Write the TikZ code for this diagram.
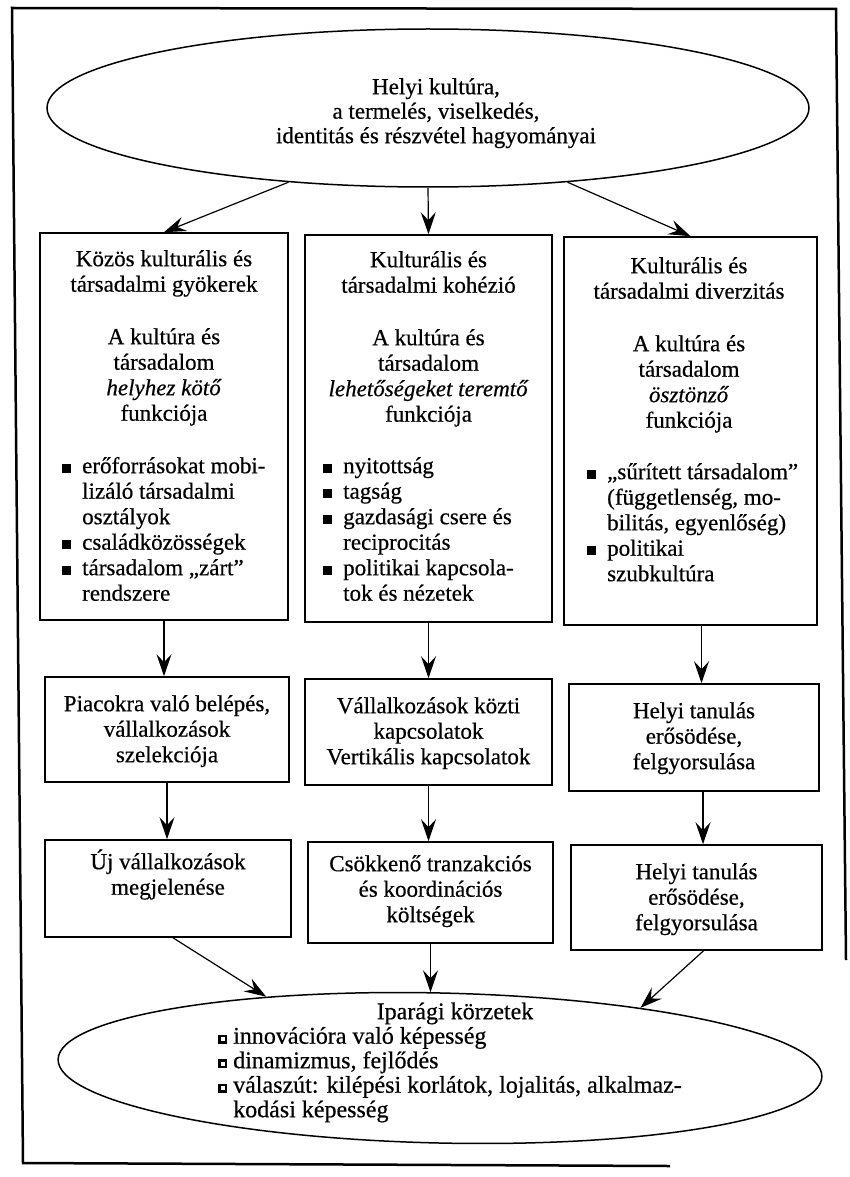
\documentclass[tikz,border=0pt]{standalone}
\usepackage{fontspec}
\setmainfont{Liberation Serif}[FakeBold=0.5]
\usetikzlibrary{arrows.meta,shapes.geometric,calc}
\newcommand\bul{\llap{\rule[0.5pt]{9pt}{9pt}\hspace{11pt}}}
\newcommand\obul{\llap{\rlap{\rule[0pt]{9pt}{9pt}}\hspace{2.5pt}\textcolor{white}{\rule[2.5pt]{4pt}{4pt}}\hspace{2.5pt}\hspace{6pt}}}
\newcommand\fst{\rule{0pt}{22pt}}
\begin{document}
\begin{tikzpicture}[x=1pt,y=-1pt,
  box/.style={draw, rectangle, line width=1.6pt, inner sep=0pt},
  oval/.style={draw, ellipse, line width=1.5pt, inner sep=0pt},
  txt/.style={inner sep=0pt, align=center, font={\fontsize{23}{25.5}\selectfont}},
  ltxt/.style={inner sep=0pt, align=left, font={\fontsize{23}{25.5}\selectfont}},
  arr/.style={line width=1.2pt, -{Stealth[length=22pt,width=15pt,inset=8pt]}}]
\useasboundingbox (0,0) rectangle (849,1177);
% outer frame
\draw[line width=2.5pt] (846,960) -- (836,9) -- (12,8) -- (23,1163) -- (670,1166);

% top ellipse
\node[oval, minimum width=762pt, minimum height=158pt] (top) at (428,108) {};
\node[txt, anchor=north, font={\fontsize{23}{24.5}\selectfont}] (toptext) at (436,72)
  {\fst Helyi kultúra,\\a termelés, viselkedés,\\identitás és részvétel hagyományai};

% first row boxes
\node[box, minimum width=248pt, minimum height=387pt] (b1) at (164,426.5) {};
\node[box, minimum width=247pt, minimum height=387pt] (b2) at (428.5,428.5) {};
\node[box, minimum width=253pt, minimum height=388pt] (b3) at (690.5,431) {};

\node[txt, anchor=north] (b1h) at (164,244) {\fst Közös kulturális és\\társadalmi gyökerek};
\node[txt, anchor=north] (b1f) at (164,322) {\fst A kultúra és\\társadalom\\\textit{helyhez kötő}\\funkciója};
\node[ltxt, anchor=north west] (b1l) at (82,451) {\fst\bul erőforrásokat mobi-\\lizáló társadalmi\\osztályok\\\bul családközösségek\\\bul társadalom „zárt”\\rendszere};

\node[txt, anchor=north] (b2h) at (428.5,245) {\fst Kulturális és\\társadalmi kohézió};
\node[txt, anchor=north] (b2f) at (428.5,323) {\fst A kultúra és\\társadalom\\\textit{lehetőségeket teremtő}\\funkciója};
\node[ltxt, anchor=north west] (b2l) at (343,451) {\fst\bul nyitottság\\\bul tagság\\\bul gazdasági csere és\\reciprocitás\\\bul politikai kapcsola-\\tok és nézetek};

\node[txt, anchor=north] (b3h) at (689,251) {\fst Kulturális és\\társadalmi diverzitás};
\node[txt, anchor=north] (b3f) at (689,329) {\fst A kultúra és\\társadalom\\\textit{ösztönző}\\funkciója};
\node[ltxt, anchor=north west] (b3l) at (607,457) {\fst\bul „sűrített társadalom”\\(függetlenség, mo-\\bilitás, egyenlőség)\\\bul politikai\\szubkultúra};

% second row boxes
\node[box, minimum width=244pt, minimum height=105pt] (b4) at (167,729.5) {};
\node[box, minimum width=247pt, minimum height=106pt] (b5) at (428.5,732) {};
\node[box, minimum width=250pt, minimum height=107pt] (b6) at (694,737.5) {};
\node[txt, anchor=north] (b4t) at (167,689) {\fst Piacokra való belépés,\\vállalkozások\\szelekciója};
\node[txt, anchor=north] (b5t) at (428.5,691) {\fst Vállalkozások közti\\kapcsolatok\\Vertikális kapcsolatok};
\node[txt, anchor=north] (b6t) at (694,696) {\fst Helyi tanulás\\erősödése,\\felgyorsulása};

% third row boxes
\node[box, minimum width=246pt, minimum height=97pt] (b7) at (168,888.5) {};
\node[box, minimum width=245pt, minimum height=101pt] (b8) at (430.5,892.5) {};
\node[box, minimum width=251pt, minimum height=105pt] (b9) at (696.5,897.5) {};
\node[txt, anchor=north] (b7t) at (168,847) {\fst Új vállalkozások\\megjelenése};
\node[txt, anchor=north] (b8t) at (430.5,849) {\fst Csökkenő tranzakciós\\és koordinációs\\költségek};
\node[txt, anchor=north] (b9t) at (696.5,857) {\fst Helyi tanulás\\erősödése,\\felgyorsulása};

% bottom ellipse
\node[oval, minimum width=764pt, minimum height=150pt, rotate=-1.3] (bot) at (440,1068) {};
\node[txt, anchor=north, font={\fontsize{24}{24.5}\selectfont}] (bott) at (455,997) {\fst Iparági körzetek};
\node[ltxt, anchor=north west, font={\fontsize{24}{24.5}\selectfont}] (botl) at (233,1021.5)
  {\fst\obul innovációra való képesség\\\obul dinamizmus, fejlődés\\\obul válaszút: kilépési korlátok, lojalitás, alkalmaz-\\kodási képesség};

% connectors
\draw[arr] (top.208) -- (b1.north);
\draw[arr] (top.south) -- (b2.north);
\draw[arr] (top.332) -- (b3.north);
\coordinate (s3) at ($(b3.south)+(11,0)$);
\coordinate (s6) at ($(b6.south)+(9,0)$);
\coordinate (s7) at ($(b7.south)+(5,0)$);
\coordinate (s9) at ($(b9.south)+(7,0)$);
\draw[arr] (b1.south) -- (b1.south |- b4.north);
\draw[arr] (b2.south) -- (b2.south |- b5.north);
\draw[arr] (s3) -- (s3 |- b6.north);
\draw[arr] (b4.south) -- (b4.south |- b7.north);
\draw[arr] (b5.south) -- (b5.south |- b8.north);
\draw[arr] (s6) -- (s6 |- b9.north);
\draw[arr] (s7) -- (bot.159);
\draw[arr] (b8.south) -- (b8.south |- bot.north);
\draw[arr] (s9) -- (bot.18);
\end{tikzpicture}
\end{document}
